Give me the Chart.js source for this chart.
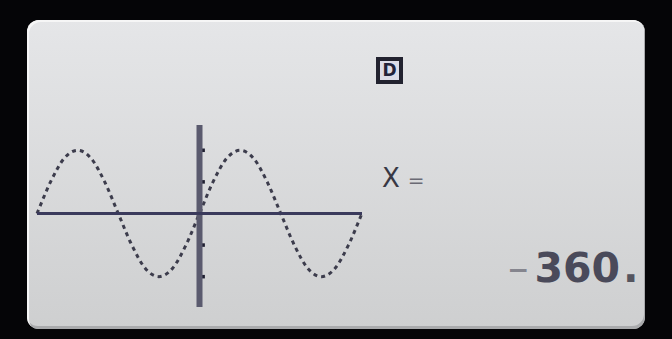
<!DOCTYPE html>
<html lang="en">
<head>
    <meta charset="UTF-8">
    <title>Sine graph</title>
    <script src="https://cdn.jsdelivr.net/npm/chart.js"></script>
    <style>
        html, body { margin: 0; padding: 0; }
        body { width: 672px; height: 339px; background: #050507; position: relative; overflow: hidden; font-family: "DejaVu Sans", sans-serif; }
        .screen {
            position: absolute; left: 27px; top: 20px; width: 618px; height: 309px;
            border-radius: 12px;
            background: linear-gradient(#e5e6e8, #cecfd0);
            box-shadow: inset 2px 2px 0 #f6f6f6, inset -1px -3px 0 #a9aaac;
        }
        .graph { position: absolute; left: 27px; top: 115px; width: 345px; height: 202px; }
        .mode {
            position: absolute; left: 376px; top: 57px; width: 19px; height: 19px;
            border: 4px solid #22222f; background: #dcdce8; color: #22223a;
            font: bold 17px "DejaVu Sans", sans-serif; line-height: 19px; text-align: center;
        }
        .xeq { position: absolute; left: 382px; top: 163px; font-size: 26px; color: #383844; }
        .xeq span { font-size: 20px; color: #6a6a74; margin-left: 8px; }
        .val { position: absolute; left: 508px; top: 244px; font: bold 41px "DejaVu Sans", sans-serif; color: #4a4a5a; }
        .val .m { color: #85858e; font-weight: normal; margin-right: 6px; }
        .val .d { color: #55555f; margin-left: 3px; }
    </style>
</head>
<body>
    <div class="screen"></div>
    <div class="graph"><canvas id="graph"></canvas></div>
    <div class="mode">D</div>
    <div class="xeq">X<span>=</span></div>
    <div class="val"><span class="m">–</span>360<span class="d">.</span></div>

    <script>
        // angle in degrees
        const angles = [-360, -330, -300, -270, -240, -210, -180, -150, -120, -90, -60, -30, 0,
                        30, 60, 90, 120, 150, 180, 210, 240, 270, 300, 330, 360];
        const values = [0, 0.5, 0.87, 1, 0.87, 0.5, 0, -0.5, -0.87, -1, -0.87, -0.5, 0,
                        0.5, 0.87, 1, 0.87, 0.5, 0, -0.5, -0.87, -1, -0.87, -0.5, 0];
        const xRange = [-360, 360];
        const yRange = [-1.48, 1.4];
        const yTicks = [1, 0.5, -0.5, -1];

        const curve = angles.map((a, i) => ({ x: a, y: values[i] }));

        new Chart(document.getElementById('graph'), {
            type: 'line',
            data: {
                datasets: [
                    {
                        data: [{ x: xRange[0], y: 0 }, { x: xRange[1], y: 0 }],
                        borderColor: '#3a3a5c', borderWidth: 3, pointRadius: 0, clip: false
                    },
                    {
                        data: [{ x: 0, y: yRange[0] }, { x: 0, y: yRange[1] }],
                        borderColor: '#5a5a6e', borderWidth: 6, pointRadius: 0, clip: false
                    },
                    {
                        data: yTicks.map(v => ({ x: 8, y: v })),
                        showLine: false, pointStyle: 'rect', pointRadius: 2.5,
                        backgroundColor: '#1e1e30', borderWidth: 0, clip: false
                    },
                    {
                        data: curve,
                        borderColor: '#3c3c4c', borderWidth: 3, borderDash: [4, 4],
                        cubicInterpolationMode: 'monotone', pointRadius: 0, clip: false
                    }
                ]
            },
            options: {
                responsive: true,
                maintainAspectRatio: false,
                animation: false,
                devicePixelRatio: 1,
                layout: { padding: 10 },
                plugins: { legend: { display: false }, tooltip: { enabled: false } },
                scales: {
                    x: { type: 'linear', min: xRange[0], max: xRange[1], display: false },
                    y: { min: yRange[0], max: yRange[1], display: false }
                }
            }
        });
    </script>
</body>
</html>
